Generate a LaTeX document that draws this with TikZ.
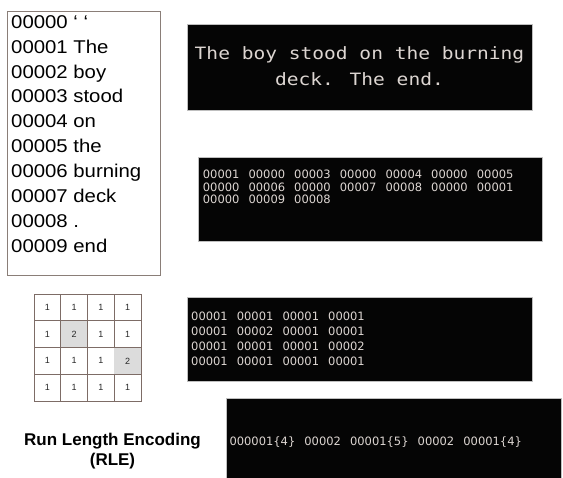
\documentclass[tikz,border=0pt]{standalone}
\usepackage{fontspec}
\newfontfamily\listfont[FakeStretch=1.1]{Liberation Sans}
\newfontfamily\termfont[FakeStretch=1.15]{DejaVu Sans Mono}
\newfontfamily\codefont{DejaVu Sans}
\newfontfamily\labfont{Liberation Sans}
\definecolor{termtext}{HTML}{DDD6D2}
\definecolor{termbg}{HTML}{050505}
\definecolor{gridline}{HTML}{7D6C66}
\definecolor{cellgrey}{HTML}{DCDCDC}
\definecolor{listborder}{HTML}{8A7E78}
\newcommand{\gp}{\hspace{9.1pt}}
\begin{document}
\begin{tikzpicture}[x=1pt,y=-1pt,
  termbox/.style={fill=termbg, draw=gray!50, line width=0.6pt, inner sep=0pt, outer sep=0pt, anchor=north west},
  listbox/.style={fill=white, draw=listborder, line width=0.8pt, inner sep=0pt, outer sep=0pt, anchor=north west},
  listline/.style={anchor=base west, inner sep=0pt, font=\listfont\fontsize{18.5}{20}\selectfont, text=black},
  termline/.style={anchor=base, inner sep=0pt, font=\termfont\fontsize{17}{20}\selectfont, text=termtext},
  codeline/.style={anchor=base west, inner sep=0pt, font=\codefont\fontsize{11.5}{13}\selectfont, text=termtext},
  cell/.style={draw=gridline, line width=0.7pt, minimum size=26.75pt, inner sep=0pt, font=\labfont\fontsize{9}{10}\selectfont, text=black!85},
  rlelabel/.style={anchor=base, inner sep=0pt, font=\labfont\bfseries\fontsize{17}{20}\selectfont}
]
\useasboundingbox (0,0) rectangle (563,478);
% left word list
\node[listbox, minimum width=153pt, minimum height=264pt] (lst) at (7,11) {};
\foreach \t [count=\i from 0] in {00000 ‘ ‘,00001 The,00002 boy,00003 stood,00004 on,00005 the,00006 burning,00007 deck,00008 .,00009 end}
  \node[listline] (w\i) at (11,28.3+24.9*\i) {\t};
% box 1
\node[termbox, minimum width=345pt, minimum height=86pt] (b1) at (187,24) {};
\node[termline] (t1a) at (359.5,60) {The boy stood on the burning};
\node[termline] (t1b) at (359.5,86) {deck. The end.};
% box 2
\node[termbox, minimum width=344pt, minimum height=84pt] (b2) at (198,157) {};
\node[codeline] (t2a) at (202.7,179) {00001\gp 00000\gp 00003\gp 00000\gp 00004\gp 00000\gp 00005};
\node[codeline] (t2b) at (202.7,191.5) {00000\gp 00006\gp 00000\gp 00007\gp 00008\gp 00000\gp 00001};
\node[codeline] (t2c) at (202.7,204) {00000\gp 00009\gp 00008};
% grid
\foreach \r/\vals in {1/{1,1,1,1},2/{1,2,1,1},3/{1,1,1,2},4/{1,1,1,1}}{
  \foreach \v [count=\c] in \vals {
    \node[cell] (c\r\c) at (34+26.75*\c-13.375, 294+26.75*\r-13.375) {\v};
  }
}
\fill[cellgrey] ([shift={(0.4pt,-0.4pt)}]c22.north west) rectangle ([shift={(-0.4pt,0.4pt)}]c22.south east);
\fill[cellgrey] ([shift={(0.4pt,-0.4pt)}]c34.north west) rectangle ([shift={(-0.4pt,0.4pt)}]c34.south east);
\node[cell, draw=none, fill=none] at (c22) {2};
\node[cell, draw=none, fill=none] at (c34) {2};
% box 3
\node[termbox, minimum width=345pt, minimum height=84pt] (b3) at (187,297) {};
\node[codeline] (t3a) at (191,320.7) {00001\gp 00001\gp 00001\gp 00001};
\node[codeline] (t3b) at (191,335.7) {00001\gp 00002\gp 00001\gp 00001};
\node[codeline] (t3c) at (191,350.7) {00001\gp 00001\gp 00001\gp 00002};
\node[codeline] (t3d) at (191,365.7) {00001\gp 00001\gp 00001\gp 00001};
% RLE label
\node[rlelabel] (rle1) at (112.5,445.7) {Run Length Encoding};
\node[rlelabel] (rle2) at (112.5,466) {(RLE)};
% box 4
\node[termbox, minimum width=335pt, minimum height=81pt] (b4) at (226,398) {};
\node[codeline] (t4) at (229.3,446) {000001\{4\}\gp 00002\gp 00001\{5\}\gp 00002\gp 00001\{4\}};
\end{tikzpicture}
\end{document}
